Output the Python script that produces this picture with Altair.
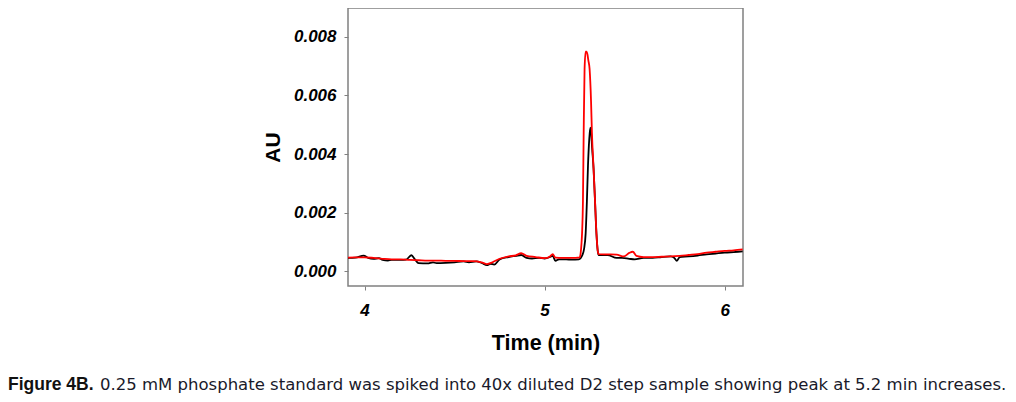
import altair as alt
import pandas as pd

# ---- data ----
red_t = [3.908, 3.95, 4.00, 4.05, 4.10, 4.15, 4.20, 4.25, 4.30, 4.35, 4.40, 4.45, 4.50,
         4.55, 4.60, 4.65, 4.68, 4.71, 4.75, 4.80, 4.84, 4.87, 4.90, 4.95, 5.00, 5.03,
         5.045, 5.06, 5.10, 5.15, 5.195, 5.200, 5.205, 5.208, 5.213, 5.217, 5.222, 5.228,
         5.233, 5.238, 5.243, 5.250, 5.258, 5.263, 5.272, 5.280, 5.288, 5.295, 5.300,
         5.35, 5.40, 5.44, 5.47, 5.49, 5.51, 5.55, 5.60, 5.65, 5.70, 5.75, 5.80, 5.85,
         5.90, 5.95, 6.00, 6.05, 6.10]
red_au = [0.00046, 0.00047, 0.00047, 0.00045, 0.00042, 0.00040, 0.00040, 0.00038, 0.00037,
          0.00036, 0.00036, 0.00035, 0.00035, 0.00034, 0.00034, 0.00030, 0.00024, 0.00030,
          0.00042, 0.00050, 0.00054, 0.00061, 0.00052, 0.00048, 0.00044, 0.00050, 0.00058,
          0.00046, 0.00045, 0.00045, 0.00047, 0.00060, 0.00095, 0.00128, 0.0024, 0.0047,
          0.0069, 0.0075, 0.0075, 0.0074, 0.0072, 0.0069, 0.0058, 0.0047, 0.0035, 0.0024,
          0.00128, 0.0007, 0.00058, 0.00057, 0.00056, 0.00050, 0.00062, 0.00066, 0.00052,
          0.00048, 0.00048, 0.00049, 0.00050, 0.00052, 0.00055, 0.00058, 0.00063, 0.00066,
          0.00069, 0.00071, 0.00074]

black_t = [3.908, 3.95, 3.995, 4.02, 4.05, 4.08, 4.10, 4.13, 4.15, 4.20, 4.23, 4.26, 4.28,
           4.30, 4.35, 4.38, 4.40, 4.45, 4.50, 4.55, 4.58, 4.62, 4.65, 4.68, 4.70, 4.72,
           4.75, 4.80, 4.84, 4.87, 4.90, 4.93, 4.97, 5.00, 5.03, 5.045, 5.06, 5.08, 5.12,
           5.15, 5.19, 5.20, 5.21, 5.219, 5.228, 5.235, 5.241, 5.248, 5.254, 5.259, 5.264,
           5.272, 5.280, 5.288, 5.295, 5.300, 5.35, 5.40, 5.43, 5.47, 5.50, 5.55, 5.60,
           5.65, 5.70, 5.72, 5.735, 5.75, 5.80, 5.85, 5.90, 5.95, 6.00, 6.05, 6.10]
black_au = [0.00045, 0.00046, 0.00053, 0.00045, 0.00042, 0.00044, 0.00038, 0.00036, 0.00038,
            0.00038, 0.00039, 0.00054, 0.00040, 0.00027, 0.00026, 0.00030, 0.00027, 0.00028,
            0.00030, 0.00033, 0.00030, 0.00033, 0.00028, 0.00020, 0.00025, 0.00022, 0.00040,
            0.00048, 0.00052, 0.00055, 0.00045, 0.00043, 0.00045, 0.00043, 0.00048, 0.00052,
            0.00035, 0.00040, 0.00040, 0.00039, 0.00040, 0.00044, 0.00055, 0.00075, 0.00128,
            0.0024, 0.0036, 0.0045, 0.0049, 0.0047, 0.0042, 0.0035, 0.0024, 0.00128, 0.0007,
            0.00055, 0.00055, 0.00045, 0.00045, 0.00042, 0.00040, 0.00045, 0.00045, 0.00048,
            0.00050, 0.00045, 0.00035, 0.00048, 0.00050, 0.00053, 0.00057, 0.00060, 0.00063,
            0.00065, 0.00067]

x_ticks = [4, 5, 6]
y_ticks = [0.000, 0.002, 0.004, 0.006, 0.008]
x_title = "Time (min)"
y_title = "AU"
caption_bold = "Figure 4B."
caption_rest = ("0.25 mM phosphate standard was spiked into 40x diluted D2 step sample "
                "showing peak at 5.2 min increases.")

df = pd.concat([
    pd.DataFrame({"t": black_t, "au": black_au, "s": "sample"}),
    pd.DataFrame({"t": red_t, "au": red_au, "s": "spiked"}),
])

FONT = "Liberation Sans"

x = alt.X("t:Q", scale=alt.Scale(domain=[3.908, 6.102], nice=False, zero=False),
          axis=alt.Axis(values=x_ticks, format="d", title=x_title, grid=False, domain=False,
                        tickSize=4, tickColor="#808080", labelPadding=12,
                        labelFont=FONT, labelFontSize=17, labelFontWeight="bold",
                        labelFontStyle="italic", labelColor="#000",
                        titleFont=FONT, titleFontSize=21.5, titleFontWeight="bold",
                        titleColor="#000", titlePadding=14))
y = alt.Y("au:Q", scale=alt.Scale(domain=[-0.00051, 0.00899], nice=False, zero=False),
          axis=alt.Axis(values=y_ticks, format=".3f", title=y_title, grid=False, domain=False,
                        tickSize=4, tickColor="#808080", labelPadding=8,
                        labelFont=FONT, labelFontSize=17, labelFontWeight="bold",
                        labelFontStyle="italic", labelColor="#000",
                        titleFont=FONT, titleFontSize=21, titleFontWeight="bold",
                        titleColor="#000", titlePadding=10))

lines = alt.Chart(df).mark_line(strokeWidth=1.8, interpolate="monotone").encode(
    x=x, y=y,
    color=alt.Color("s:N", scale=alt.Scale(domain=["sample", "spiked"],
                                           range=["#000000", "#ff0000"]), legend=None),
    order=alt.Order("s:N"),
    detail="s:N",
)

cap_df = pd.DataFrame({"a": [caption_bold], "b": [caption_rest]})
cap1 = alt.Chart(cap_df).mark_text(align="left", baseline="alphabetic", font=FONT,
                                   fontSize=17.5, fontWeight="bold", color="#111").encode(
    text="a:N", x=alt.value(-340), y=alt.value(382))
cap2 = alt.Chart(cap_df).mark_text(align="left", baseline="alphabetic", font="DejaVu Sans",
                                   fontSize=16.5, color="#1a1a2a").encode(
    text="b:N", x=alt.value(-248), y=alt.value(382))

chart = alt.layer(lines, cap1, cap2).properties(
    width=395, height=278,
    autosize=alt.AutoSizeParams(type="none"),
    padding={"left": 340, "top": 0, "right": 265, "bottom": 108},
).configure_view(stroke="#808080", strokeWidth=1.5)

chart.save("out.html", embed_options={"renderer": "svg", "actions": False})
